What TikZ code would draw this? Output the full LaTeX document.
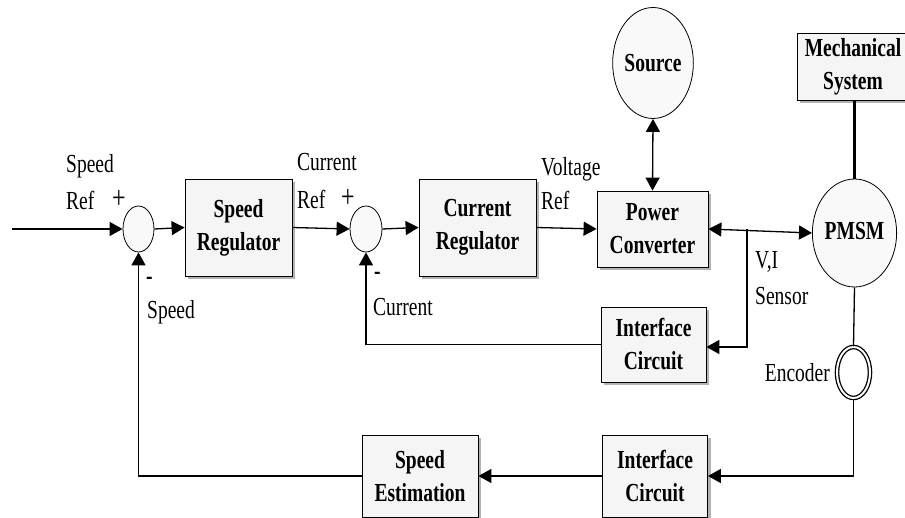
\documentclass[tikz,border=0pt]{standalone}
\usepackage{fontspec}
\setmainfont{Liberation Serif}[FakeStretch=0.75]
\usetikzlibrary{arrows.meta,shapes.geometric,shadows}
\begin{document}
\begin{tikzpicture}[x=1pt,y=-1pt,
  font=\fontsize{26}{33}\selectfont,
  wire/.style={line width=1.3pt,draw=black},
  tipend/.tip={Triangle[length=13pt,width=14pt]},
  arr/.style={wire,-tipend},
  biarr/.style={wire,tipend-tipend},
  block/.style={draw=black,line width=0.8pt,fill=gray!8,align=center,
    font=\fontsize{26}{33}\selectfont\bfseries,inner sep=0pt,
    drop shadow={shadow xshift=3pt,shadow yshift=-3pt,fill=gray!60,opacity=1}},
  sumjunc/.style={ellipse,draw=black,line width=0.8pt,fill=gray!5,inner sep=0pt},
  bubble/.style={ellipse,draw=black,line width=0.8pt,fill=gray!5,inner sep=0pt,
    font=\fontsize{26}{33}\selectfont\bfseries,align=center},
  lbl/.style={inner sep=0pt,anchor=west,align=left},
  sgn/.style={inner sep=0pt,anchor=west,font=\fontsize{32}{32}\selectfont}]
\useasboundingbox (0,0) rectangle (905,518);

% forward path
\coordinate (in) at (12,229);
\node[sumjunc,minimum width=31pt,minimum height=46pt] (s1) at (138.5,229) {};
\node[block,minimum width=107pt,minimum height=97pt] (sreg) at (238.5,227.5) {Speed\\Regulator};
\node[sumjunc,minimum width=32pt,minimum height=46pt] (s2) at (366,229) {};
\node[block,minimum width=117pt,minimum height=97pt] (creg) at (477.5,227.5) {Current\\Regulator};
\node[block,minimum width=111pt,minimum height=76pt] (pc) at (652.5,229) {Power\\Converter};
\node[bubble,minimum width=74pt,minimum height=111pt] (src) at (653,63) {Source};
\node[block,minimum width=112pt,minimum height=67pt] (mech) at (853,66.5) {Mechanical\\System};
\node[bubble,minimum width=84pt,minimum height=108pt] (pmsm) at (854.5,233) {\raisebox{5pt}{PMSM}};

% feedback blocks
\node[block,minimum width=105pt,minimum height=75pt] (ic1) at (653.5,344.5) {Interface\\Circuit};
\node[ellipse,draw=black,line width=1.3pt,double=white,double distance=2pt,
  minimum width=33pt,minimum height=51pt,inner sep=0pt] (enc) at (853.5,372.5) {};
\node[block,minimum width=105pt,minimum height=82pt] (ic2) at (655,476) {Interface\\Circuit};
\node[block,minimum width=116pt,minimum height=82pt] (sest) at (420,476) {Speed\\Estimation};

% text labels
\node[lbl] (t1) at (66,166) {Speed};
\node[lbl] (t2) at (66,200) {Ref};
\node[sgn] (t3) at (112,199) {+};
\node[lbl] (t4) at (146,281) {\textbf{-}};
\node[lbl] (t5) at (147,312) {Speed};
\node[lbl] (t6) at (297,162) {Current};
\node[lbl] (t7) at (297,199) {Ref};
\node[sgn] (t8) at (341,198) {+};
\node[lbl] (t9) at (374,276) {\textbf{-}};
\node[lbl] (t10) at (373,307) {Current};
\node[lbl] (t11) at (541,169) {Voltage};
\node[lbl] (t12) at (541,200) {Ref};
\node[lbl] (t13) at (755,262) {V,I};
\node[lbl] (t14) at (755,296) {Sensor};
\node[inner sep=0pt,anchor=east] (t15) at (830,373) {Encoder};

% forward connectors
\draw[arr] (in) -- (s1.west);
\draw[arr] (s1.east) -- (sreg.west);
\draw[arr] (sreg.east) -- (s2.west);
\draw[arr] (s2.east) -- (creg.west);
\draw[arr] (creg.east) -- (pc.west);
\draw[biarr] (src.south) -- (pc.north);
\draw[biarr] (pc.east) -- (pmsm.west);
\draw[line width=2.6pt] (mech.south -| pmsm.north) -- (pmsm.north);

% current feedback
\coordinate (tap) at (747,229);
\draw[arr] (tap) |- (ic1.east |- 0,347);
\draw[arr] (ic1.west) -| (s2.south);

% speed feedback
\draw[wire] (pmsm.south) -- (enc.north);
\draw[arr] (enc.south) |- (ic2.east);
\draw[arr] (ic2.west) -- (sest.east);
\draw[arr] (sest.west) -| (s1.south);
\end{tikzpicture}
\end{document}
